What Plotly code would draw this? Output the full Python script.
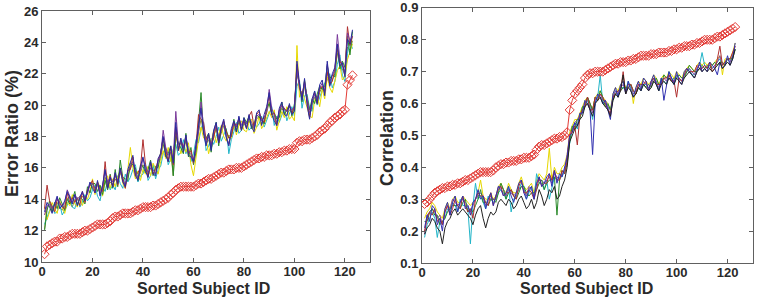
import plotly.graph_objects as go
from plotly.subplots import make_subplots

subject_ids = list(range(1, 124))

# ---- Left panel: Error Ratio (%) ----
err_best = [10.5,11.0,11.1,11.2,11.3,11.3,11.5,11.5,11.6,11.6,11.7,11.8,11.8,11.8,11.8,11.9,12.0,12.0,12.1,12.2,
            12.3,12.4,12.4,12.4,12.4,12.5,12.6,12.8,12.9,12.9,13.0,13.1,13.1,13.1,13.1,13.2,13.3,13.3,13.4,13.5,
            13.5,13.5,13.5,13.6,13.6,13.7,13.8,13.9,14.0,14.1,14.3,14.4,14.6,14.7,14.8,14.8,14.8,14.8,14.8,14.8,
            14.9,15.0,15.0,15.1,15.2,15.3,15.3,15.4,15.5,15.6,15.7,15.7,15.8,15.9,15.9,15.9,16.0,16.0,16.0,16.1,
            16.2,16.3,16.4,16.5,16.6,16.6,16.7,16.7,16.8,16.8,16.8,16.9,16.9,17.0,17.0,17.1,17.1,17.2,17.2,17.2,
            17.6,17.7,17.7,17.8,17.8,17.8,17.9,18.0,18.1,18.3,18.4,18.5,18.7,18.9,19.0,19.2,19.3,19.4,19.6,19.7,
            21.3,21.6,21.9]

err_blue = [13.2,13.8,13.5,13.1,13.7,14.2,13.4,13.6,13.9,14.5,14.1,13.7,14.3,13.6,14.1,14.5,13.9,14.6,15.1,14.7,
            14.4,15.2,14.2,14.9,15.9,14.7,15.4,14.8,15.7,15.0,16.0,15.1,14.8,15.9,16.3,16.8,15.5,15.2,16.1,16.7,
            15.8,15.4,16.4,15.6,15.5,16.6,16.9,18.0,16.8,16.4,17.4,16.3,18.9,17.1,17.9,17.0,18.1,16.8,16.7,16.4,
            17.5,18.7,19.8,18.2,17.4,18.2,17.1,18.4,18.9,17.6,18.6,19.1,17.9,17.4,18.5,19.0,18.3,19.3,18.4,19.2,
            18.5,19.4,18.6,18.3,19.5,19.7,18.7,19.4,19.9,20.8,19.4,19.0,18.7,19.8,20.2,19.4,19.3,20.1,19.4,19.6,
            22.8,21.4,20.3,21.7,20.0,19.1,20.4,20.9,20.1,21.3,21.6,20.6,22.8,21.2,22.0,22.4,23.9,22.5,22.7,21.8,
            24.2,23.9,24.8]
err_green = [12.0,13.3,13.9,13.2,13.8,13.4,14.1,13.7,13.3,14.0,13.7,14.0,14.5,13.6,14.1,14.0,13.7,14.8,14.4,15.0,
             15.0,14.5,14.9,14.3,15.2,14.6,15.6,14.7,15.9,14.8,16.5,15.4,15.3,15.2,16.3,16.2,16.0,15.2,16.2,16.1,
             15.7,15.9,16.5,15.5,16.1,16.0,17.0,17.9,16.7,16.9,17.4,15.5,18.0,17.6,17.2,16.9,18.2,16.7,17.3,16.2,
             17.0,18.9,20.8,18.2,17.9,18.2,17.0,18.3,18.9,17.4,18.5,18.9,18.4,17.9,18.0,19.1,18.3,19.2,18.4,19.2,
             18.9,19.3,18.5,18.8,19.4,19.2,19.2,18.8,19.8,20.1,19.4,19.5,19.1,19.2,20.2,19.4,19.7,20.0,19.3,20.1,
             22.0,21.4,20.2,21.6,20.5,19.7,20.4,20.1,20.7,21.2,21.0,21.2,22.5,21.7,21.9,21.8,23.8,22.3,22.8,22.4,
             24.4,23.2,24.7]
err_red = [13.4,14.9,13.9,13.5,13.2,14.0,13.7,13.5,13.4,14.4,13.8,14.1,13.8,14.1,13.6,14.5,13.8,14.6,14.9,15.2,
           14.4,15.1,14.6,14.5,16.4,14.7,15.5,14.8,15.6,14.9,15.9,15.4,14.7,15.8,15.9,16.7,15.5,15.7,16.0,17.8,
           16.2,15.4,16.3,15.6,15.9,16.5,16.9,17.9,17.2,16.4,17.3,16.2,18.6,17.1,17.8,17.3,18.0,16.9,17.1,16.3,
           17.4,19.4,19.1,18.9,17.8,18.1,17.5,17.9,18.8,17.6,18.5,19.0,18.3,17.9,18.0,18.9,18.7,19.1,18.4,19.0,
           18.5,19.3,19.6,18.6,19.4,19.6,19.1,18.9,19.8,20.6,19.4,19.5,18.7,19.7,20.0,19.8,19.6,20.0,19.5,19.9,
           22.6,21.1,20.6,21.5,20.3,19.2,20.2,20.8,20.1,21.0,21.2,20.9,22.1,21.3,21.5,22.3,23.6,22.8,22.5,22.1,
           25.0,23.8,24.4]
err_cyan = [12.4,12.9,13.3,13.6,13.1,13.2,13.7,13.0,13.3,13.6,14.2,13.5,13.4,14.1,13.5,13.8,14.3,13.9,14.1,14.6,
            14.9,14.2,13.9,14.8,14.5,15.2,14.6,14.9,14.6,15.5,15.0,14.7,15.6,15.1,15.4,15.9,16.2,15.1,15.5,15.6,
            16.3,15.2,15.5,16.2,15.3,15.9,16.1,16.9,17.3,16.2,16.6,17.2,17.5,16.8,17.0,17.8,16.9,17.4,16.4,16.9,
            17.8,17.6,18.5,18.9,17.1,17.4,17.9,17.5,18.0,18.6,17.7,18.1,18.5,16.9,17.8,18.3,18.9,18.2,18.4,18.8,
            18.9,18.4,18.6,18.9,18.6,18.8,19.3,18.6,19.0,19.4,19.9,18.7,19.3,18.9,19.3,19.8,19.0,19.4,19.9,19.3,
            21.2,21.6,19.8,20.6,20.7,19.8,19.6,20.9,20.0,20.5,20.9,21.4,21.6,22.0,21.1,21.5,22.6,23.2,21.9,21.5,
            23.3,24.0,23.6]
err_purple = [13.0,13.6,13.7,13.4,13.6,14.1,13.8,13.5,13.8,14.6,14.2,13.8,14.3,14.0,14.2,14.4,14.1,14.3,15.0,15.0,
              14.7,15.0,14.3,14.9,15.8,15.1,15.4,15.1,15.5,15.2,15.8,15.2,14.9,15.8,16.1,16.4,15.8,15.3,15.8,16.6,
              16.1,15.7,16.0,15.9,15.6,16.4,16.8,18.4,17.3,16.8,17.0,16.6,19.6,17.5,17.6,17.3,17.9,17.1,16.9,16.5,
              17.3,18.3,20.2,18.6,17.6,18.0,17.4,18.3,18.7,17.9,18.4,18.9,18.0,17.5,18.4,18.8,18.6,19.2,18.7,19.1,
              18.8,19.2,18.9,18.5,19.3,19.4,19.0,19.2,19.6,21.0,19.8,19.3,18.9,19.6,20.0,19.7,19.6,19.9,19.7,19.9,
              22.2,21.2,20.5,21.4,20.3,19.5,20.2,20.7,20.4,21.1,21.4,20.8,22.6,21.5,21.9,22.2,24.5,22.9,22.6,22.0,
              24.6,24.1,24.4]
err_yellow = [13.5,12.7,13.2,13.8,13.4,13.1,13.9,13.5,13.1,13.8,13.6,14.3,13.7,13.5,14.2,13.6,14.1,14.0,14.5,15.3,
              14.3,15.1,14.8,14.2,15.1,15.5,14.7,15.3,14.8,15.4,15.9,15.0,14.7,15.9,17.3,16.0,15.3,15.8,15.2,15.9,
              15.6,16.1,15.5,16.3,16.0,15.6,16.4,17.1,16.6,17.3,16.4,17.1,17.9,17.6,16.9,17.4,17.0,17.6,16.2,15.5,
              16.8,17.8,18.6,17.9,17.9,16.9,17.6,18.4,17.6,18.2,18.7,18.0,17.7,18.1,17.9,18.9,18.1,18.7,19.0,18.4,
              18.3,18.9,19.1,18.2,18.6,19.3,18.5,18.8,19.2,19.6,19.2,19.7,18.4,19.0,19.6,19.2,19.9,19.1,19.3,19.0,
              23.8,20.5,20.9,20.4,19.8,19.3,19.2,20.3,20.6,19.9,21.0,20.4,21.8,21.1,20.8,21.6,22.2,22.5,21.6,21.8,
              22.9,23.4,23.9]
err_olive = [12.1,13.5,13.6,13.2,13.4,13.8,13.5,13.3,13.6,14.1,13.8,13.5,14.0,13.7,14.0,14.2,13.9,14.5,14.9,14.8,
             14.6,14.9,14.4,14.6,15.4,14.8,15.1,14.9,15.3,15.0,15.7,15.3,14.9,15.5,15.9,16.4,15.6,15.3,15.7,16.2,
             15.9,15.5,16.0,15.7,15.6,16.2,16.6,17.5,16.9,16.4,17.0,15.5,18.3,17.2,17.6,17.1,17.7,16.9,16.8,16.5,
             17.1,18.3,19.1,18.4,17.5,17.8,17.2,18.0,18.5,17.7,18.2,18.7,18.0,17.5,18.1,18.6,18.4,18.9,18.5,18.8,
             18.6,19.0,18.7,18.4,19.1,19.3,18.8,19.0,19.5,20.2,19.5,19.1,18.8,19.4,19.8,19.5,19.4,19.7,19.5,19.7,
             22.3,21.0,20.4,21.2,20.1,19.3,20.0,20.5,20.2,20.8,21.2,20.7,22.2,21.3,21.6,22.0,23.3,22.6,22.3,21.9,
             23.7,23.5,24.1]

# ---- Right panel: Correlation ----
corr_best = [0.285,0.29,0.30,0.31,0.32,0.325,0.33,0.335,0.335,0.34,0.34,0.345,0.345,0.35,0.35,0.355,0.36,0.36,0.365,0.37,
             0.375,0.38,0.385,0.385,0.385,0.385,0.385,0.39,0.40,0.405,0.41,0.41,0.415,0.415,0.42,0.42,0.42,0.425,0.425,0.43,
             0.43,0.43,0.435,0.44,0.455,0.465,0.47,0.47,0.475,0.48,0.485,0.49,0.49,0.495,0.495,0.50,0.51,0.58,0.61,0.63,
             0.64,0.65,0.66,0.68,0.69,0.695,0.695,0.70,0.70,0.70,0.70,0.705,0.71,0.715,0.72,0.725,0.725,0.73,0.73,0.73,
             0.735,0.735,0.74,0.74,0.745,0.75,0.75,0.75,0.75,0.755,0.755,0.755,0.76,0.76,0.76,0.76,0.765,0.765,0.77,0.77,
             0.775,0.775,0.78,0.78,0.78,0.785,0.785,0.79,0.79,0.795,0.80,0.80,0.80,0.80,0.805,0.81,0.81,0.815,0.82,0.825,
             0.83,0.835,0.84]

corr_blue = [0.21,0.25,0.23,0.28,0.27,0.22,0.24,0.20,0.27,0.29,0.25,0.29,0.31,0.26,0.29,0.31,0.27,0.28,0.25,0.29,
             0.30,0.33,0.30,0.31,0.27,0.30,0.32,0.28,0.31,0.34,0.33,0.31,0.32,0.34,0.31,0.29,0.32,0.35,0.36,0.32,
             0.30,0.33,0.34,0.30,0.35,0.37,0.34,0.35,0.37,0.38,0.34,0.39,0.35,0.38,0.37,0.40,0.43,0.50,0.51,0.54,
             0.53,0.57,0.57,0.61,0.60,0.58,0.44,0.60,0.63,0.62,0.60,0.61,0.58,0.55,0.63,0.65,0.62,0.66,0.67,0.63,
             0.67,0.64,0.62,0.65,0.67,0.64,0.68,0.67,0.64,0.67,0.69,0.66,0.64,0.68,0.61,0.66,0.70,0.68,0.66,0.70,
             0.67,0.66,0.70,0.71,0.70,0.69,0.68,0.70,0.73,0.70,0.71,0.70,0.73,0.72,0.71,0.69,0.73,0.71,0.72,0.75,
             0.72,0.74,0.79]
corr_green = [0.23,0.23,0.26,0.27,0.25,0.25,0.22,0.23,0.24,0.26,0.27,0.28,0.28,0.28,0.27,0.29,0.30,0.26,0.27,0.26,
              0.28,0.30,0.33,0.29,0.29,0.28,0.30,0.30,0.29,0.32,0.35,0.33,0.30,0.32,0.33,0.31,0.30,0.32,0.34,0.34,
              0.32,0.31,0.32,0.32,0.33,0.35,0.36,0.33,0.35,0.36,0.36,0.37,0.25,0.36,0.39,0.38,0.41,0.48,0.53,0.52,
              0.55,0.55,0.59,0.59,0.62,0.60,0.58,0.62,0.61,0.64,0.62,0.59,0.60,0.58,0.61,0.63,0.64,0.64,0.65,0.65,
              0.65,0.66,0.64,0.63,0.65,0.66,0.66,0.65,0.66,0.65,0.67,0.68,0.66,0.66,0.69,0.68,0.68,0.67,0.68,0.68,
              0.69,0.68,0.68,0.70,0.72,0.71,0.70,0.70,0.71,0.72,0.71,0.72,0.71,0.72,0.73,0.72,0.73,0.73,0.72,0.74,
              0.74,0.74,0.77]
corr_red = [0.20,0.24,0.26,0.25,0.27,0.23,0.24,0.22,0.26,0.28,0.25,0.27,0.30,0.28,0.27,0.31,0.28,0.26,0.27,0.24,
            0.30,0.32,0.31,0.31,0.29,0.28,0.32,0.28,0.31,0.33,0.34,0.31,0.32,0.32,0.33,0.31,0.30,0.34,0.36,0.32,
            0.32,0.33,0.32,0.30,0.33,0.37,0.34,0.35,0.35,0.38,0.36,0.39,0.36,0.36,0.39,0.38,0.42,0.50,0.51,0.53,
            0.47,0.56,0.58,0.59,0.62,0.58,0.58,0.62,0.61,0.63,0.62,0.60,0.58,0.57,0.62,0.63,0.64,0.64,0.70,0.63,
            0.66,0.66,0.64,0.63,0.66,0.66,0.66,0.67,0.64,0.67,0.68,0.66,0.66,0.66,0.68,0.68,0.69,0.67,0.67,0.62,
            0.68,0.67,0.69,0.71,0.70,0.70,0.70,0.72,0.71,0.71,0.72,0.71,0.73,0.70,0.71,0.74,0.78,0.72,0.73,0.74,
            0.74,0.76,0.78]
corr_cyan = [0.18,0.22,0.24,0.26,0.24,0.18,0.23,0.23,0.24,0.27,0.26,0.29,0.28,0.26,0.30,0.28,0.28,0.27,0.16,0.28,
             0.35,0.30,0.31,0.29,0.27,0.31,0.30,0.29,0.30,0.32,0.33,0.32,0.30,0.34,0.26,0.30,0.31,0.33,0.35,0.34,
             0.30,0.32,0.34,0.30,0.38,0.35,0.35,0.33,0.36,0.30,0.34,0.37,0.36,0.37,0.37,0.39,0.43,0.48,0.52,0.54,
             0.52,0.56,0.57,0.59,0.61,0.59,0.55,0.60,0.62,0.69,0.60,0.60,0.59,0.58,0.62,0.64,0.62,0.65,0.65,0.64,
             0.67,0.65,0.63,0.64,0.65,0.64,0.66,0.66,0.65,0.66,0.68,0.67,0.64,0.68,0.67,0.66,0.70,0.68,0.66,0.69,
             0.68,0.67,0.69,0.70,0.71,0.69,0.69,0.71,0.72,0.76,0.72,0.71,0.72,0.71,0.72,0.73,0.74,0.72,0.73,0.74,
             0.73,0.75,0.77]
corr_purple = [0.19,0.25,0.26,0.27,0.26,0.24,0.25,0.22,0.26,0.28,0.27,0.30,0.29,0.28,0.29,0.30,0.29,0.28,0.26,0.28,
               0.30,0.31,0.32,0.31,0.28,0.30,0.31,0.30,0.30,0.34,0.34,0.33,0.31,0.33,0.32,0.31,0.32,0.33,0.34,0.33,
               0.31,0.34,0.33,0.31,0.35,0.36,0.36,0.35,0.36,0.37,0.35,0.38,0.37,0.36,0.38,0.39,0.44,0.50,0.52,0.54,
               0.55,0.56,0.58,0.60,0.62,0.60,0.57,0.61,0.62,0.63,0.61,0.61,0.59,0.56,0.62,0.64,0.63,0.65,0.66,0.64,
               0.65,0.66,0.63,0.64,0.66,0.65,0.67,0.66,0.65,0.66,0.68,0.67,0.65,0.67,0.68,0.67,0.69,0.68,0.67,0.69,
               0.68,0.67,0.69,0.70,0.71,0.70,0.69,0.71,0.72,0.71,0.72,0.71,0.72,0.71,0.72,0.73,0.75,0.72,0.73,0.74,
               0.73,0.75,0.78]
corr_yellow = [0.24,0.26,0.27,0.29,0.28,0.26,0.25,0.24,0.27,0.29,0.27,0.30,0.31,0.29,0.29,0.31,0.30,0.29,0.28,0.29,
               0.30,0.32,0.36,0.31,0.30,0.30,0.32,0.30,0.31,0.34,0.35,0.33,0.32,0.35,0.33,0.32,0.32,0.35,0.37,0.34,
               0.33,0.34,0.35,0.32,0.36,0.38,0.37,0.36,0.38,0.46,0.36,0.40,0.38,0.38,0.40,0.41,0.44,0.51,0.53,0.55,
               0.55,0.57,0.59,0.61,0.62,0.60,0.58,0.62,0.63,0.64,0.62,0.61,0.60,0.58,0.63,0.65,0.64,0.66,0.67,0.65,
               0.66,0.66,0.60,0.65,0.67,0.66,0.68,0.67,0.66,0.67,0.69,0.68,0.66,0.68,0.69,0.68,0.70,0.69,0.68,0.70,
               0.69,0.68,0.70,0.71,0.72,0.71,0.70,0.72,0.73,0.72,0.73,0.72,0.73,0.72,0.73,0.74,0.75,0.69,0.74,0.74,
               0.74,0.76,0.79]
corr_black = [0.19,0.21,0.22,0.24,0.23,0.21,0.20,0.16,0.21,0.23,0.24,0.26,0.27,0.25,0.26,0.27,0.26,0.25,0.24,0.22,
              0.25,0.27,0.28,0.24,0.21,0.24,0.26,0.25,0.26,0.29,0.30,0.29,0.28,0.30,0.29,0.27,0.28,0.30,0.31,0.29,
              0.27,0.28,0.30,0.27,0.29,0.33,0.31,0.28,0.30,0.33,0.32,0.34,0.30,0.31,0.34,0.36,0.40,0.48,0.50,0.52,
              0.53,0.55,0.56,0.59,0.60,0.58,0.56,0.60,0.61,0.62,0.60,0.59,0.58,0.56,0.61,0.63,0.62,0.64,0.69,0.63,
              0.65,0.64,0.62,0.63,0.65,0.64,0.66,0.65,0.64,0.65,0.67,0.66,0.64,0.66,0.67,0.66,0.68,0.67,0.66,0.68,
              0.67,0.66,0.68,0.69,0.70,0.69,0.68,0.70,0.71,0.70,0.71,0.70,0.71,0.70,0.71,0.72,0.73,0.71,0.72,0.73,
              0.72,0.74,0.77]

left_series = [(err_olive, "#8a8a3a"), (err_cyan, "#22b5c8"), (err_yellow, "#e6d800"), (err_green, "#2a8a2a"),
               (err_red, "#b03030"), (err_purple, "#7a3a9a"), (err_blue, "#2a2aa0")]
right_series = [(corr_yellow, "#e6d800"), (corr_cyan, "#22b5c8"), (corr_purple, "#8a4aa0"), (corr_green, "#2a8a2a"),
                (corr_red, "#b03030"), (corr_blue, "#3030b0"), (corr_black, "#222222")]

fig = make_subplots(rows=1, cols=2)

for s, c in left_series:
    fig.add_trace(go.Scatter(x=subject_ids[:len(s)], y=s, mode="lines", line=dict(color=c, width=1),
                             showlegend=False, hoverinfo="skip"), row=1, col=1)
fig.add_trace(go.Scatter(x=subject_ids[:len(err_best)], y=err_best, mode="lines+markers",
                         line=dict(color="#e33b36", width=1),
                         marker=dict(symbol="diamond-open", size=7, color="#e33b36", line=dict(width=1)),
                         showlegend=False), row=1, col=1)
for s, c in right_series:
    fig.add_trace(go.Scatter(x=subject_ids[:len(s)], y=s, mode="lines", line=dict(color=c, width=1),
                             showlegend=False, hoverinfo="skip"), row=1, col=2)
fig.add_trace(go.Scatter(x=subject_ids[:len(corr_best)], y=corr_best, mode="lines+markers",
                         line=dict(color="#e33b36", width=1),
                         marker=dict(symbol="diamond-open", size=7, color="#e33b36", line=dict(width=1)),
                         showlegend=False), row=1, col=2)

FAM = "Liberation Sans, Arial, sans-serif"
tick_font = dict(family=FAM, size=13, color="#2a2a2a", weight="bold")
axis_common = dict(showline=True, linecolor="#606060", linewidth=1, mirror="ticks", ticks="inside",
                   ticklen=4, tickcolor="#606060", showgrid=False, zeroline=False, tickfont=tick_font,
                   automargin=False)

fig.update_xaxes(**axis_common, range=[0, 130], dtick=20, tick0=0, ticklabelstandoff=-3)
fig.update_xaxes(domain=[0.0555, 0.489], row=1, col=1)
fig.update_xaxes(domain=[0.5575, 0.9947], row=1, col=2)
fig.update_yaxes(**axis_common)
fig.update_yaxes(range=[10, 26], dtick=2, tick0=10, domain=[0.138, 0.964], row=1, col=1)
fig.update_yaxes(range=[0.1, 0.9], dtick=0.1, tick0=0.1, tickformat=".1f", domain=[0.135, 0.974], row=1, col=2)

W, H = 757, 304
def ann(text, px, py, size, angle=0):
    return dict(text=text, x=px / W, y=1 - py / H, xref="paper", yref="paper", showarrow=False,
                xanchor="center", yanchor="middle", textangle=angle,
                font=dict(family=FAM, size=size, color="#2a2a2a", weight="bold"))

fig.update_layout(
    width=W, height=H, margin=dict(l=0, r=0, t=0, b=0, autoexpand=False),
    paper_bgcolor="white", plot_bgcolor="white",
    annotations=[
        ann("Sorted Subject ID", 203, 288, 16),
        ann("Sorted Subject ID", 586, 288, 16),
        ann("Error Ratio (%)", 12, 134, 18, -90),
        ann("Correlation", 387, 138, 18, -90),
    ],
)

fig.write_html("out.html", config={"responsive": False, "displayModeBar": False},
               post_script="document.body.style.margin='0';document.body.style.overflow='hidden';")

lens = [len(s) for s, _ in left_series + right_series] + [len(err_best), len(corr_best)]
assert all(n == 123 for n in lens), lens
